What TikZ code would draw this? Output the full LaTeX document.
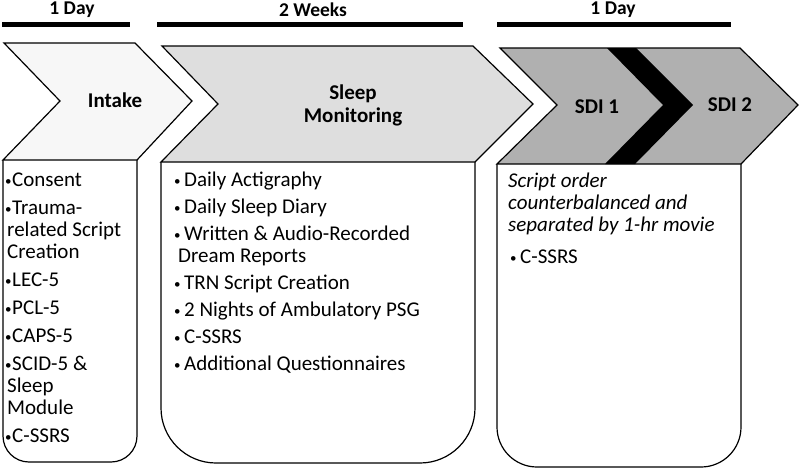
\documentclass[tikz,border=0pt]{standalone}
\usepackage{fontspec}
\setmainfont{Carlito}
\newcommand\dotb{\raisebox{1.5pt}{\fontsize{13}{13}\selectfont•}}
\newcommand\blt{\makebox[7pt][l]{\dotb}}
\newcommand\bltw{\makebox[10pt][l]{\dotb}}
\begin{document}
\begin{tikzpicture}[x=1pt,y=-1pt,
  outl/.style={draw=black,line width=1.2pt,line join=miter},
  bar/.style={line width=5pt},
  hd/.style={font=\fontsize{19.5}{22}\selectfont\bfseries,inner sep=0pt},
  lbl/.style={font=\fontsize{21}{23}\selectfont\bfseries,inner sep=0pt,align=center},
  body/.style={font=\fontsize{21}{22}\selectfont,inner sep=0pt,align=left,anchor=north west},
  boxs/.style={draw=black,line width=1.2pt,fill=white}]
\useasboundingbox (0,0) rectangle (800,469);
% top bars
\coordinate (b1a) at (2,24.5); \coordinate (b1b) at (130,24.5);
\coordinate (b2a) at (157,24.5); \coordinate (b2b) at (463,24.5);
\coordinate (b3a) at (497,24.5); \coordinate (b3b) at (731,24.5);
\draw[bar] (b1a) -- (b1b);
\draw[bar] (b2a) -- (b2b);
\draw[bar] (b3a) -- (b3b);
\node[hd] (d1) at (72,10) {1 Day};
\node[hd] (w2) at (313,10) {2 Weeks};
\node[hd] (d3) at (613,10) {1 Day};
% boxes
\path[boxs,rounded corners=26pt] (3,160) -- (3,462) -- (137,462) -- (137,160);
\path[boxs,rounded corners=55pt] (161,162) -- (161,463) -- (475,463) -- (475,162);
\path[boxs,rounded corners=40pt] (497,164) -- (497,467) -- (741,467) -- (741,164);
% chevrons
\draw[outl,fill=black!3] (4,43) -- (135,43) -- (192,101) -- (137,160) -- (3,160) -- (60,101) -- cycle;
\draw[outl,fill=black!13] (162,46) -- (473,46) -- (533,104) -- (475,162) -- (161,162) -- (218,104) -- cycle;
\draw[outl,fill=black!31] (500,48) -- (740,48) -- (798,105) -- (741,164) -- (497,164) -- (557,105) -- cycle;
\fill[black] (607,48) -- (636,48) -- (693,105) -- (635,164) -- (605,164) -- (663,105) -- cycle;
\node[lbl] (intake) at (115,100) {Intake};
\node[lbl] (sleep) at (353,105) {Sleep\\Monitoring};
\node[lbl] (sdi1) at (597,107) {SDI 1};
\node[lbl] (sdi2) at (730,105) {SDI 2};
% texts
\node[body] (t1) at (5,173) {\blt Consent\\[6pt]
\blt Trauma-\\
\hspace*{2pt}related Script\\
\hspace*{2pt}Creation\\[6pt]
\blt LEC-5\\[6pt]
\blt PCL-5\\[6pt]
\blt CAPS-5\\[6pt]
\blt SCID-5 \&\\
\hspace*{2pt}Sleep\\
\hspace*{2pt}Module\\[6pt]
\blt C-SSRS};
\node[body] (t2) at (174,172) {\bltw Daily Actigraphy\\[5pt]
\bltw Daily Sleep Diary\\[5pt]
\bltw Written \& Audio-Recorded\\
\hspace*{4pt}Dream Reports\\[5pt]
\bltw TRN Script Creation\\[5pt]
\bltw 2 Nights of Ambulatory PSG\\[5pt]
\bltw C-SSRS\\[5pt]
\bltw Additional Questionnaires};
\node[body] (t3) at (508,173) {\itshape Script order\\
\itshape counterbalanced and\\
\itshape separated by 1-hr movie\\[10pt]
\hspace*{2pt}\bltw C-SSRS};
\end{tikzpicture}
\end{document}
